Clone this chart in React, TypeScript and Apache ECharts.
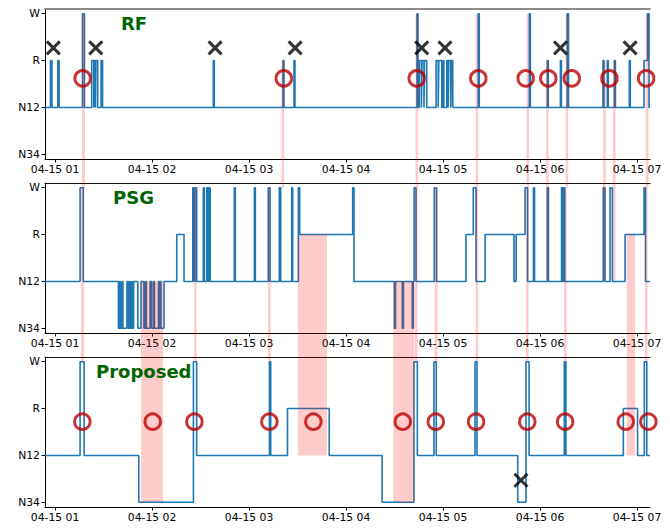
import React, { useEffect, useRef } from 'react';
import * as echarts from 'echarts';

// ---------- data (minutes after 04-15 01:00) ----------
const stageNames = ['N34', 'N12', 'R', 'W'];
const stageTicks = [0, 1, 2, 3];
const hourTicks = [0, 60, 120, 180, 240, 300, 360];
const hourLabels = ['04-15 01', '04-15 02', '04-15 03', '04-15 04', '04-15 05', '04-15 06', '04-15 07'];
const panelTitles = ['RF', 'PSG', 'Proposed'];

// [time at which stage starts, stage index]
const rfChanges: number[][] = [
  [-6.2, 1], [-2.8, 2], [-1.9, 1], [1.7, 2], [2.5, 1], [17.0, 3], [18.2, 1],
  [22.7, 2], [24.0, 1], [24.4, 2], [25.0, 1], [25.3, 2], [26.4, 1], [28.5, 2], [29.4, 1],
  [97.9, 2], [98.5, 1], [141.0, 2], [141.6, 1], [147.8, 2], [148.4, 1],
  [223.9, 3], [224.5, 1], [225.3, 2], [226.6, 1], [227.0, 2], [228.2, 1], [228.5, 2], [229.9, 1],
  [235.7, 2], [237.0, 1], [237.4, 2], [239.2, 1], [240.0, 2], [240.5, 1],
  [242.3, 2], [243.2, 1], [243.6, 2], [244.8, 1], [245.2, 2], [246.0, 1],
  [261.8, 3], [262.4, 1], [293.4, 3], [294.0, 1], [304.5, 2], [305.1, 1],
  [312.6, 2], [313.2, 1], [316.8, 3], [317.6, 1], [338.9, 2], [339.5, 1],
  [341.6, 2], [342.2, 1], [346.0, 2], [346.6, 1], [355.2, 2], [355.8, 1],
  [364.3, 2], [366.5, 3], [367.4, 1],
];

const psgChanges: number[][] = [
  [-6.2, 1], [15.5, 3], [17.5, 1],
  [39.2, 0], [40.0, 1], [40.5, 0], [41.5, 1], [42.0, 0], [44.5, 1], [45.3, 0], [46.0, 1],
  [46.5, 0], [47.5, 1], [48.0, 0], [48.6, 1], [51.2, 0], [53.2, 1], [55.0, 0], [56.0, 1],
  [56.5, 0], [58.8, 1], [59.8, 0], [61.0, 1], [61.5, 0], [64.0, 1], [64.5, 0], [65.0, 1],
  [65.5, 0], [67.4, 1],
  [75.3, 2], [79.8, 1],
  [85.2, 3], [86.0, 1], [86.5, 3], [87.6, 1],
  [91.7, 3], [92.3, 1], [93.8, 3], [94.7, 1], [95.2, 3], [96.0, 1],
  [110.9, 3], [111.5, 1], [123.3, 3], [123.9, 1], [131.9, 3], [133.0, 1],
  [138.7, 3], [139.6, 1], [146.4, 3], [147.0, 1], [150.5, 3], [151.3, 2],
  [184.1, 3], [184.9, 1],
  [209.9, 0], [210.6, 1], [214.8, 0], [215.5, 1], [221.0, 0], [221.6, 1], [222.1, 3], [223.3, 1],
  [234.6, 3], [236.0, 1], [254.2, 2], [258.7, 3], [260.4, 1],
  [266.0, 2], [283.9, 1], [285.2, 2], [290.7, 3], [292.3, 1],
  [295.9, 3], [296.6, 1], [304.5, 3], [305.2, 1],
  [313.3, 3], [313.9, 1], [314.5, 3], [315.3, 1],
  [339.1, 3], [340.2, 1], [343.3, 3], [344.7, 1],
  [352.6, 2], [364.3, 3], [365.2, 1],
];

const proposedChanges: number[][] = [
  [-6.2, 1], [15.5, 3], [18.0, 1], [51.8, 0], [85.6, 3], [87.6, 1],
  [132.6, 3], [133.4, 1], [143.8, 2], [169.6, 1], [202.3, 0], [222.0, 3], [224.1, 1],
  [234.4, 3], [235.8, 1], [259.8, 3], [261.0, 1], [286.2, 0], [291.3, 3], [293.2, 1],
  [315.0, 3], [316.0, 1], [351.5, 2], [360.3, 1], [364.5, 3], [366.0, 1],
];

// shaded spans: [start, end, stage in upper panel, stage in lower panel]
const rfPsgSpans: number[][] = [
  [16.7, 18.5, 3, 3], [140.1, 141.7, 2, 3], [223.0, 224.6, 3, 3], [260.1, 261.7, 3, 3],
  [291.6, 293.2, 3, 3], [303.7, 305.3, 2, 1], [315.8, 317.4, 3, 3], [339.0, 340.6, 2, 1],
  [345.1, 346.7, 2, 1], [365.3, 367.1, 3, 3],
];
const psgProposedSpans: number[][] = [
  [16.1, 17.9, 3, 3], [53.2, 66.8, 1, 0], [86.0, 87.6, 3, 3], [131.7, 133.3, 3, 3],
  [150.3, 168.2, 2, 1], [209.1, 222.1, 1, 0], [222.4, 224.2, 3, 3], [234.7, 236.6, 3, 3],
  [260.1, 261.7, 3, 3], [291.3, 292.9, 3, 3], [314.8, 316.4, 3, 3], [353.6, 358.8, 2, 1],
  [364.9, 366.5, 3, 3],
];

const rfCircles: number[][] = [
  [17.1, 1.62], [141.5, 1.62], [223.7, 1.62], [261.8, 1.62], [291.1, 1.62],
  [305.1, 1.62], [319.6, 1.62], [342.9, 1.62], [365.6, 1.62],
];
const rfCrosses: number[][] = [
  [-1.05, 2.27], [25.2, 2.27], [99.0, 2.27], [148.5, 2.27],
  [226.8, 2.27], [241.2, 2.27], [312.6, 2.27], [355.7, 2.27],
];
const proposedCircles: number[][] = [
  [16.9, 1.72], [60.4, 1.72], [86.2, 1.72], [132.6, 1.72], [159.8, 1.72], [215.1, 1.72],
  [235.5, 1.72], [260.4, 1.72], [292.1, 1.72], [315.5, 1.72], [353.0, 1.72], [367.0, 1.72],
];
const proposedCrosses: number[][] = [[288.2, 0.47]];

// ---------- layout ----------
const X_MIN = -6.2;
const X_MAX = 368;
const GRID_LEFT = 45;
const GRID_WIDTH = 605;
const GRID_HEIGHT = 150;
const GRID_TOPS = [9, 183, 357];
const FONT = 'DejaVu Sans';
const LINE_BLUE = '#1f77b4';
const PINK = 'rgba(255,0,0,0.2)';
const CIRCLE_RED = '#bb0000';

function stepData(changes: number[][]) {
  const pts = changes.map(([t, s]) => [t, s]);
  pts.push([X_MAX, changes[changes.length - 1][1]]);
  return pts;
}

function bandRenderer(offset: number) {
  return (params: any, api: any) => {
    const p1 = api.coord([api.value(0), api.value(2)]);
    const p2 = api.coord([api.value(1), api.value(3)]);
    const w = Math.max(p2[0] - p1[0], 2.5);
    return {
      type: 'rect',
      shape: { x: p1[0], y: p1[1], width: w, height: p2[1] + offset - p1[1] },
      style: { fill: PINK },
    };
  };
}

export default function App() {
  const ref = useRef<HTMLDivElement>(null);

  useEffect(() => {
    if (!ref.current) return;
    const chart = echarts.init(ref.current, undefined, { renderer: 'svg' });

    const grids = GRID_TOPS.map((top) => ({
      left: GRID_LEFT, top, width: GRID_WIDTH, height: GRID_HEIGHT, containLabel: false,
    }));

    const xAxes: any[] = [];
    const yAxes: any[] = [];
    GRID_TOPS.forEach((_, i) => {
      xAxes.push({
        type: 'value', gridIndex: i, min: X_MIN, max: X_MAX, position: 'bottom',
        axisLine: { show: true, onZero: false, lineStyle: { color: '#000', width: 1 } },
        axisTick: { show: true, customValues: hourTicks, length: 3.5, lineStyle: { color: '#000', width: 1 } },
        axisLabel: {
          show: true, customValues: hourTicks, margin: 5,
          formatter: (v: number) => hourLabels[hourTicks.indexOf(Math.round(v))] ?? '',
          fontSize: 10.8, fontFamily: FONT, color: '#000',
        },
        splitLine: { show: false },
      });
      xAxes.push({
        type: 'value', gridIndex: i, min: X_MIN, max: X_MAX, position: 'top',
        axisLine: { show: true, onZero: false, lineStyle: { color: i === 0 ? '#666' : '#111', width: i === 0 ? 1.5 : 1 } },
        axisTick: { show: false }, axisLabel: { show: false }, splitLine: { show: false },
      });
      yAxes.push({
        type: 'value', gridIndex: i, min: -0.1, max: 3.1,
        axisLine: { show: true, onZero: false, lineStyle: { color: '#000', width: 1 } },
        axisTick: { show: true, customValues: stageTicks, length: 3.5, lineStyle: { color: '#000', width: 1 } },
        axisLabel: {
          show: true, customValues: stageTicks, margin: 5,
          formatter: (v: number) => stageNames[Math.round(v)] ?? '',
          fontSize: 10.8, fontFamily: FONT, color: '#000',
        },
        splitLine: { show: false },
      });
    });

    const lineSeries = (changes: number[][], i: number) => ({
      type: 'line', xAxisIndex: 2 * i, yAxisIndex: i, data: stepData(changes),
      step: 'end', showSymbol: false, symbol: 'none', z: 2,
      lineStyle: { color: LINE_BLUE, width: 1.6 }, silent: true,
    });

    const offset = GRID_TOPS[1] - GRID_TOPS[0];

    const circleSeries = (data: number[][], i: number) => ({
      type: 'scatter', xAxisIndex: 2 * i, yAxisIndex: i, data, clip: false, z: 10,
      symbol: 'circle', symbolSize: 15.5,
      itemStyle: { color: 'rgba(0,0,0,0)', borderColor: CIRCLE_RED, borderWidth: 3 },
    });
    const crossSeries = (data: number[][], i: number) => ({
      type: 'scatter', xAxisIndex: 2 * i, yAxisIndex: i, data, clip: false, z: 10,
      symbol: 'path://M0,0L10,10M10,0L0,10', symbolSize: 13,
      itemStyle: { color: 'rgba(0,0,0,0)', borderColor: '#000', borderWidth: 3 },
    });

    const titleLefts = [121, 113, 96];
    const titleCenters = [25, 199, 373];

    chart.setOption({
      animation: false,
      grid: grids,
      xAxis: xAxes,
      yAxis: yAxes,
      series: [
        lineSeries(rfChanges, 0),
        lineSeries(psgChanges, 1),
        lineSeries(proposedChanges, 2),
        {
          type: 'custom', xAxisIndex: 0, yAxisIndex: 0, data: rfPsgSpans, clip: false, z: 5,
          renderItem: bandRenderer(offset), silent: true,
        },
        {
          type: 'custom', xAxisIndex: 2, yAxisIndex: 1, data: psgProposedSpans, clip: false, z: 5,
          renderItem: bandRenderer(offset), silent: true,
        },
        circleSeries(rfCircles, 0),
        crossSeries(rfCrosses, 0),
        circleSeries(proposedCircles, 2),
        crossSeries(proposedCrosses, 2),
      ],
      graphic: panelTitles.map((t, i) => ({
        type: 'text', left: titleLefts[i], top: titleCenters[i] - 11, z: 20,
        style: { text: t, fill: '#006400', font: `bold 18px "${FONT}"` },
      })),
    });

    return () => chart.dispose();
  }, []);

  return (
    <div
      ref={ref}
      style={{ position: 'absolute', left: 0, top: 0, width: 670, height: 529, background: '#fff' }}
    />
  );
}
